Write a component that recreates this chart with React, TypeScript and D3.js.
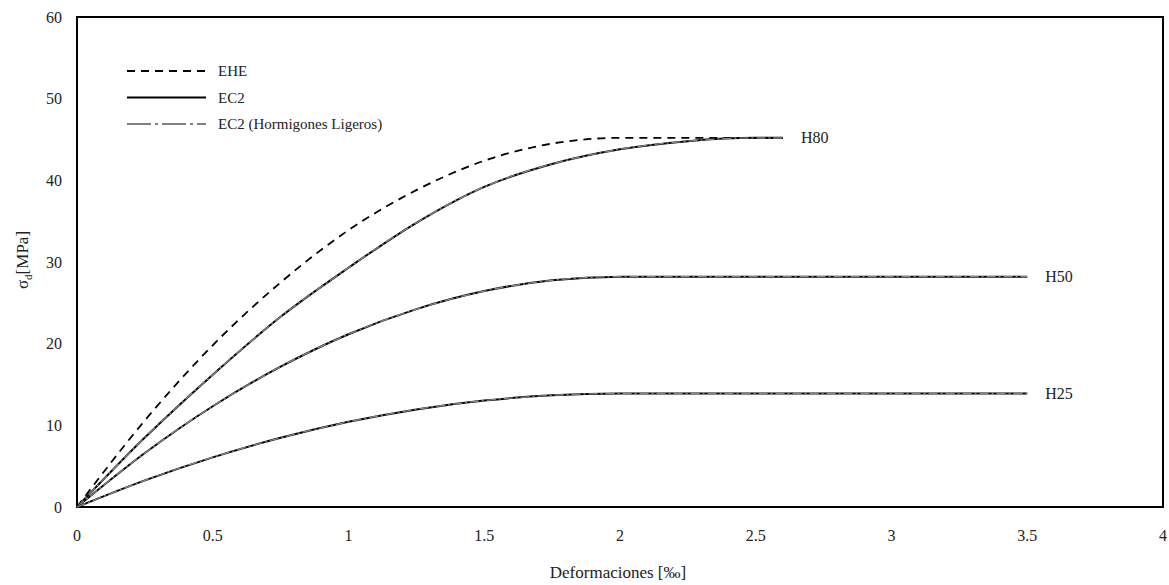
import React from "react";
import * as d3 from "d3";

// Strain values [‰]
const strainParabola = [0, 0.25, 0.5, 0.75, 1.0, 1.25, 1.5, 1.75, 2.0, 2.5, 3.0, 3.5];
const strainH80 = [0, 0.25, 0.5, 0.75, 1.0, 1.25, 1.5, 1.75, 2.0, 2.25, 2.5, 2.6];
const strainEHE = [0, 0.25, 0.5, 0.75, 1.0, 1.25, 1.5, 1.75, 2.0, 2.25, 2.6];

// Stress values [MPa]
const stressH25 = [0, 3.26, 6.08, 8.47, 10.43, 11.95, 13.03, 13.68, 13.9, 13.9, 13.9, 13.9];
const stressH50 = [0, 6.61, 12.34, 17.18, 21.15, 24.23, 26.44, 27.76, 28.2, 28.2, 28.2, 28.2];
const stressH80 = [0, 8.5, 16.2, 23.3, 29.3, 34.8, 39.2, 42.0, 43.8, 44.8, 45.2, 45.2];
const stressEHE = [0, 10.6, 19.8, 27.5, 33.9, 38.8, 42.4, 44.5, 45.2, 45.2, 45.2];

const xTicks = [0, 0.5, 1, 1.5, 2, 2.5, 3, 3.5, 4];
const yTicks = [0, 10, 20, 30, 40, 50, 60];
const curveLabels = ["H80", "H50", "H25"];
const legendLabels = ["EHE", "EC2", "EC2 (Hormigones Ligeros)"];

const FONT = "'Liberation Serif', 'Times New Roman', serif";

export default function App() {
  const W = 1169, H = 585;
  const left = 77, right = 1163, top = 17, bottom = 507;
  const x = d3.scaleLinear().domain([0, 4]).range([left, right]);
  const y = d3.scaleLinear().domain([0, 60]).range([bottom, top]);
  const line = d3.line<[number, number]>().x(d => x(d[0])).y(d => y(d[1])).curve(d3.curveMonotoneX);

  const zip = (a: number[], b: number[]) => a.map((v, i) => [v, b[i]] as [number, number]);
  const ec2 = [
    { pts: zip(strainH80, stressH80), label: curveLabels[0] },
    { pts: zip(strainParabola, stressH50), label: curveLabels[1] },
    { pts: zip(strainParabola, stressH25), label: curveLabels[2] },
  ];
  const ehe = zip(strainEHE, stressEHE);

  const dashDot = "9,3,2,3";

  return (
    <svg width={W} height={H} style={{ position: "absolute", left: 0, top: 0, background: "#fff" }}>
      <rect x={0} y={0} width={W} height={H} fill="#fff" />
      {/* frame */}
      <rect x={left} y={top} width={right - left} height={bottom - top} fill="none" stroke="#000" strokeWidth={2} />

      {/* curves */}
      <path d={line(ehe) || ""} fill="none" stroke="#000" strokeWidth={1.8} strokeDasharray="8,6" />
      {ec2.map((c, i) => (
        <g key={i}>
          <path d={line(c.pts) || ""} fill="none" stroke="#000" strokeWidth={2} />
          <path d={line(c.pts) || ""} fill="none" stroke="#8a8a8a" strokeWidth={1.3} strokeDasharray={dashDot} />
          <text
            x={x(c.pts[c.pts.length - 1][0]) + 18}
            y={y(c.pts[c.pts.length - 1][1])}
            dy="0.35em"
            fontFamily={FONT}
            fontSize={16}
            fill="#222"
          >
            {c.label}
          </text>
        </g>
      ))}

      {/* ticks labels */}
      {xTicks.map(t => (
        <text key={"x" + t} x={x(t)} y={541} textAnchor="middle" fontFamily={FONT} fontSize={16} fill="#222">
          {t}
        </text>
      ))}
      {yTicks.map(t => (
        <text key={"y" + t} x={62} y={y(t)} dy="0.35em" textAnchor="end" fontFamily={FONT} fontSize={16} fill="#222">
          {t}
        </text>
      ))}

      {/* axis titles */}
      <text x={618} y={578} textAnchor="middle" fontFamily={FONT} fontSize={17} fill="#222">
        Deformaciones [‰]
      </text>
      <text transform="translate(28,260) rotate(-90)" textAnchor="middle" fontFamily={FONT} fontSize={17} fill="#222">
        σ<tspan fontSize={11} dy="4">d</tspan><tspan dy="-4">[MPa]</tspan>
      </text>

      {/* legend */}
      {legendLabels.map((l, i) => {
        const ly = 71 + i * 26.5;
        return (
          <g key={l}>
            <line
              x1={127}
              x2={206}
              y1={ly}
              y2={ly}
              stroke={i === 2 ? "#555" : "#000"}
              strokeWidth={i === 2 ? 1.6 : 1.8}
              strokeDasharray={i === 0 ? "8,6" : i === 2 ? "24,4,3,4" : undefined}
            />
            <text x={218} y={ly} dy="0.35em" fontFamily={FONT} fontSize={15} fill="#222">
              {l}
            </text>
          </g>
        );
      })}
    </svg>
  );
}
